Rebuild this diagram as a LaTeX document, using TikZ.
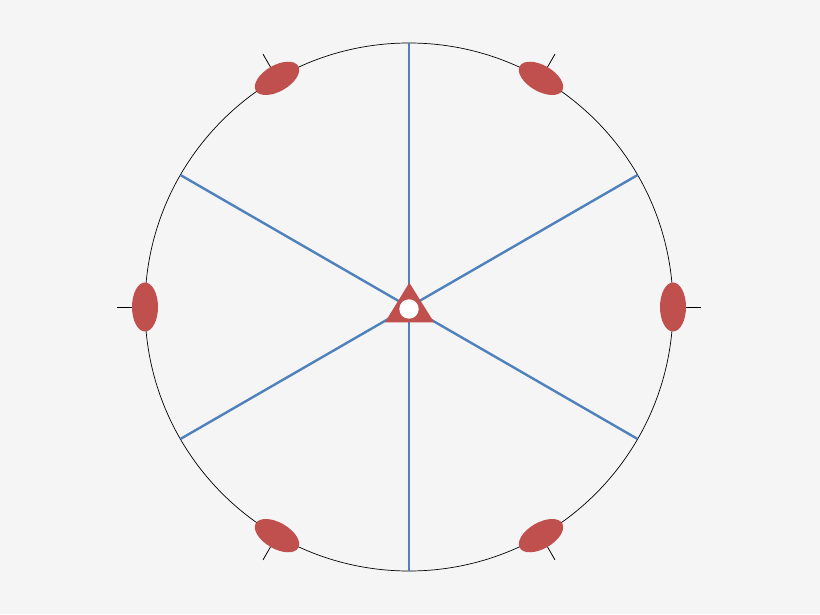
\documentclass[tikz,border=0pt]{standalone}
\usetikzlibrary{shapes.geometric,calc}
\definecolor{bg}{HTML}{F5F5F5}
\definecolor{redc}{HTML}{C0504D}
\definecolor{bluec}{HTML}{4F81BD}
\tikzset{
  spoke/.style={draw=bluec, line width=2.4pt},
  rim/.style={draw=black, line width=0.7pt},
  tick/.style={draw=black, line width=0.8pt},
  blob/.style={ellipse, fill=redc, draw=none, inner sep=0pt, minimum width=49pt, minimum height=26pt},
}
\begin{document}
\begin{tikzpicture}[x=1pt,y=1pt]
\fill[bg] (0,0) rectangle (820,614);
\useasboundingbox (0,0) rectangle (820,614);
\coordinate (O) at (409,307);
\foreach \a in {0,30,60,90,120,150,180,210,240,270,300,330}{
  \coordinate (r\a) at ($(O)+(\a:264)$);
}
\foreach \a in {0,60,120,180,240,300}{
  \coordinate (t\a) at ($(O)+(\a:292)$);
}
% ticks
\foreach \a in {0,60,120,180,240,300}{
  \draw[tick] (r\a) -- (t\a);
}
% rim
\draw[rim] (O) circle[radius=264];
% spokes
\draw[spoke] (r90) -- (r270);
\draw[spoke] (r30) -- (r210);
\draw[spoke] (r150) -- (r330);
% blobs
\foreach \a in {0,60,120,180,240,300}{
  \node[blob, rotate=\a+90] (b\a) at (r\a) {};
}
% center triangle
\coordinate (ta) at (409.3,331.3);
\coordinate (tl) at (385,291.7);
\coordinate (tr) at (434,291.7);
\fill[redc] (ta) -- (tl) -- (tr) -- cycle;
\node[circle, fill=white, inner sep=0pt, minimum size=19.4pt] (hole) at (409,305) {};
\end{tikzpicture}
\end{document}
